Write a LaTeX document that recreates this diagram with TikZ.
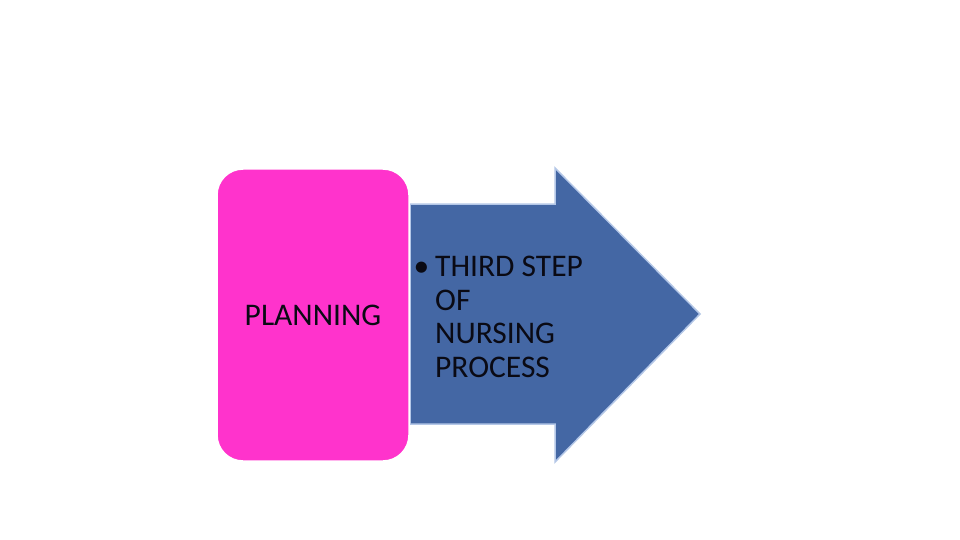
\documentclass[tikz,border=0pt]{standalone}
\usepackage{fontspec}
\setmainfont{Carlito}
\definecolor{pinkbox}{HTML}{FF33CC}
\definecolor{arrowblue}{HTML}{4467A4}
\definecolor{arrowedge}{HTML}{B4C7E7}
\definecolor{txtcol}{HTML}{0A0A14}
\begin{document}
\begin{tikzpicture}[x=1pt,y=-1pt,
  bigarrow/.style={fill=arrowblue,draw=arrowedge,line width=1.5pt,line join=miter},
  pinkbox/.style={fill=pinkbox,draw=white,line width=1.5pt,rounded corners=26pt},
  lbl/.style={font=\fontsize{31.5}{33.5}\selectfont,text=txtcol,inner sep=0pt}]
\useasboundingbox[fill=white] (0,0) rectangle (960,540);
\draw[bigarrow] (410,204) -- (555,204) -- (555,168) -- (700,314) -- (555,462) -- (555,424) -- (410,424) -- cycle;
\draw[pinkbox] (217,169) rectangle (409,461);
\coordinate (boxc) at (313,315);
\node[lbl] (plan) at (boxc) {PLANNING};
\node[lbl,anchor=base west,align=left] (steps) at (435,377) {\llap{•\hspace{6pt}}THIRD STEP\\OF\\NURSING\\PROCESS};
\end{tikzpicture}
\end{document}
